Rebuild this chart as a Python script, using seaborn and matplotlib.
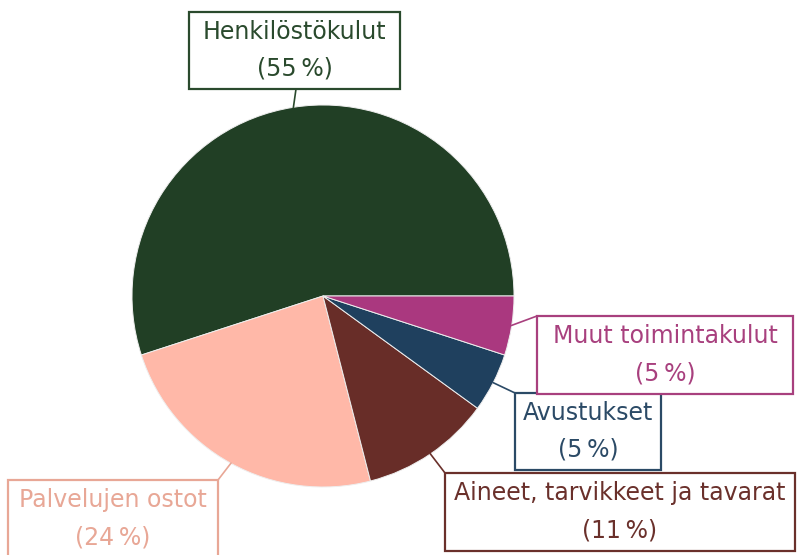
import matplotlib
matplotlib.use("Agg")
import matplotlib.pyplot as plt
import seaborn as sns
import numpy as np
from matplotlib.patches import Rectangle

# ---- data ----
categories = ["Henkilöstökulut", "Palvelujen ostot", "Aineet, tarvikkeet ja tavarat",
              "Avustukset", "Muut toimintakulut"]
shares = [55, 24, 11, 5, 5]
pct_labels = ["(55\u202f%)", "(24\u202f%)", "(11\u202f%)", "(5\u202f%)", "(5\u202f%)"]
slice_colors = ["#213F25", "#FFB8A8", "#682D28", "#1F405E", "#AA387F"]
label_colors = ["#2A4A2D", "#E8A796", "#6A302B", "#2B4A66", "#A8407E"]

# ---- layout (pixels in a 797x555 canvas): box left, top, width, height ----
boxes = [
    (189, 12, 211, 77),
    (8, 480, 210, 78),
    (445, 473, 350, 78),
    (515, 393, 146, 77),
    (537, 316, 256, 78),
]
leader_ends = [(296, 89), (218, 480), (445, 473), (515, 393), (537, 316)]

W, H = 797, 555
cx, cy, R = 323, 296, 191

sns.set_theme(style="white")
plt.rcParams['font.family'] = ['DejaVu Sans']

fig = plt.figure(figsize=(W / 100, H / 100), dpi=100)
fig.patch.set_facecolor("white")

ax = fig.add_axes([(cx - R) / W, (H - cy - R) / H, 2 * R / W, 2 * R / H])
wedges, _ = ax.pie(shares, colors=slice_colors, startangle=0, counterclock=True,
                   radius=1.0, wedgeprops=dict(edgecolor="#eeeeee", linewidth=0.7))
ax.set_xlim(-1, 1)
ax.set_ylim(-1, 1)
ax.set_aspect("equal")
ax.axis("off")

ov = fig.add_axes([0, 0, 1, 1], zorder=5)
ov.set_xlim(0, W)
ov.set_ylim(H, 0)
ov.axis("off")
ov.patch.set_alpha(0)

for i, w in enumerate(wedges):
    mid = np.deg2rad((w.theta1 + w.theta2) / 2)
    p = ax.transData.transform((0.995 * np.cos(mid), 0.995 * np.sin(mid)))
    sx, sy = ov.transData.inverted().transform(p)
    ex, ey = leader_ends[i]
    ov.plot([sx, ex], [sy, ey], color=label_colors[i], lw=1.2, solid_capstyle="butt")
    bx, by, bw, bh = boxes[i]
    ov.add_patch(Rectangle((bx, by), bw, bh, facecolor="white",
                           edgecolor=label_colors[i], lw=1.6, clip_on=False))
    ov.text(bx + bw / 2, by + 0.26 * bh, categories[i], color=label_colors[i],
            fontsize=17, ha="center", va="center")
    ov.text(bx + bw / 2, by + 0.74 * bh, pct_labels[i], color=label_colors[i],
            fontsize=17, ha="center", va="center")

fig.savefig("out.png", dpi=100, facecolor="white")
